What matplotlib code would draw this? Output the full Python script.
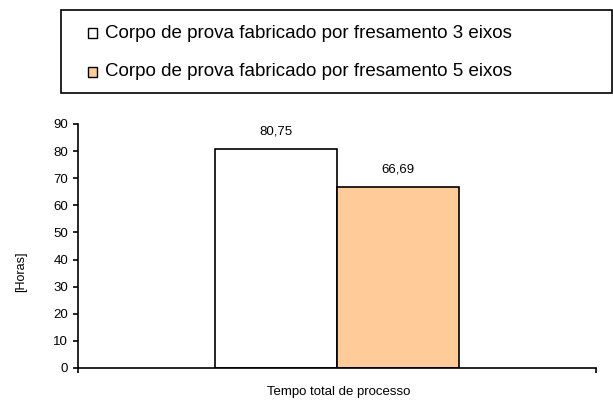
import matplotlib.pyplot as plt
from matplotlib.patches import Rectangle

plt.rcParams['font.family'] = ['Liberation Sans', 'DejaVu Sans']

series = ['Corpo de prova fabricado por fresamento 3 eixos',
          'Corpo de prova fabricado por fresamento 5 eixos']
values = [80.75, 66.69]
labels = ['80,75', '66,69']
colors = ['white', '#FFCC99']
category = 'Tempo total de processo'

W, H = 613, 401
fig = plt.figure(figsize=(W / 100, H / 100), dpi=100)
ax = fig.add_axes([78 / W, 1 - 368 / H, 518 / W, 244 / H])

width = 0.2355
offsets = [-width / 2, width / 2]
for off, v, c, lab in zip(offsets, values, colors, labels):
    ax.bar(off, v, width=width, color=c, edgecolor='black', linewidth=1.2, zorder=2)
    ax.annotate(lab, (off, v), xytext=(0, 8.5), textcoords='offset points',
                ha='center', va='bottom', fontsize=9.5)

ax.set_xlim(-0.5, 0.5)
ax.set_ylim(0, 90)
ax.set_yticks(range(0, 91, 10))
ax.set_xticks([-0.5, 0.5])
ax.set_xticklabels(['', ''])
ax.tick_params(axis='y', direction='out', length=3.6, width=1.2, labelsize=9.5, pad=3.5)
ax.tick_params(axis='x', direction='out', length=3.6, width=1.2)
for s in ['top', 'right']:
    ax.spines[s].set_visible(False)
for s in ['left', 'bottom']:
    ax.spines[s].set_linewidth(1.2)
fig.text(21 / W, 1 - 272 / H, '[Horas]', rotation=90, ha='center', va='center', fontsize=9)
fig.text(339 / W, 1 - 392 / H, category, ha='center', va='center', fontsize=9.5)

# legend frame
fig.patches.append(Rectangle((61 / W, 1 - 93 / H), 551 / W, 83 / H,
                             transform=fig.transFigure, facecolor='white',
                             edgecolor='black', linewidth=1.2))
for i, (name, c) in enumerate(zip(series, colors)):
    yc = 1 - (33 + 39 * i) / H
    fig.patches.append(Rectangle((88 / W, yc - 4.5 / H), 9 / W, 9 / H,
                                 transform=fig.transFigure, facecolor=c,
                                 edgecolor='black', linewidth=1.0))
    fig.text(105 / W, yc, name, fontsize=13.5, va='center', ha='left')

fig.savefig('out.png', dpi=100)
